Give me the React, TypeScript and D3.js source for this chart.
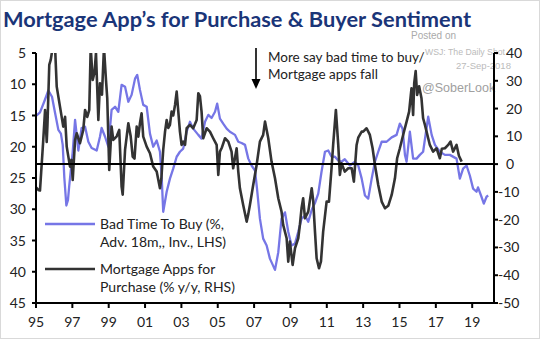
import React from "react";
import * as d3 from "d3";

const W = 540;
const H = 339;

const titleText = "Mortgage App\u2019s for Purchase & Buyer Sentiment";
const xTickYears = [1995, 1997, 1999, 2001, 2003, 2005, 2007, 2009, 2011, 2013, 2015, 2017, 2019];
const leftTicks = [5, 10, 15, 20, 25, 30, 35, 40, 45];
const rightTicks = [40, 30, 20, 10, 0, -10, -20, -30, -40, -50];
const legendBlue = ["Bad Time To Buy (%,", "Adv. 18m,, Inv., LHS)"];
const legendBlack = ["Mortgage Apps for", "Purchase (% y/y, RHS)"];
const annotationLines = ["More say bad time to buy/", "Mortgage apps fall"];

// Bad time to buy (%), advanced 18m, inverted, left axis
const badTimeToBuy: [number, number][] = [
  [1994.95, 15.2], [1995.22, 14.5], [1995.45, 12.8], [1995.68, 11.0], [1995.88, 12.0], [1996.05, 14.6],
  [1996.23, 17.3], [1996.37, 17.9], [1996.47, 19.7], [1996.56, 25.0], [1996.67, 29.4], [1996.76, 28.5],
  [1996.83, 26.2], [1997.02, 20.8], [1997.15, 15.7], [1997.33, 20.6], [1997.51, 17.0], [1997.7, 16.8],
  [1997.88, 19.2], [1998.06, 20.2], [1998.34, 20.6], [1998.52, 18.4], [1998.61, 17.0], [1998.8, 18.4],
  [1998.98, 20.0], [1999.16, 14.1], [1999.35, 13.6], [1999.53, 14.4], [1999.71, 10.1], [1999.9, 10.4],
  [2000.08, 12.8], [2000.26, 11.7], [2000.45, 9.1], [2000.57, 8.5], [2000.72, 10.9], [2000.9, 13.3],
  [2001.09, 13.6], [2001.27, 17.9], [2001.45, 20.0], [2001.64, 19.0], [2001.82, 20.8], [2001.91, 24.5],
  [2002.0, 30.4], [2002.19, 27.2], [2002.37, 25.1], [2002.55, 23.5], [2002.74, 21.6], [2002.92, 20.8],
  [2003.1, 20.3], [2003.29, 17.6], [2003.47, 16.0], [2003.65, 17.1], [2003.93, 18.1], [2004.11, 18.7],
  [2004.3, 16.0], [2004.48, 14.9], [2004.66, 15.4], [2004.85, 14.4], [2004.97, 13.1], [2005.12, 15.5],
  [2005.3, 16.3], [2005.49, 17.1], [2005.67, 17.6], [2005.95, 18.1], [2006.13, 19.2], [2006.31, 19.4],
  [2006.5, 19.7], [2006.68, 21.9], [2006.86, 23.0], [2007.05, 23.8], [2007.16, 26.7], [2007.32, 31.5],
  [2007.5, 34.7], [2007.69, 35.8], [2007.87, 37.9], [2008.15, 39.7], [2008.33, 36.9], [2008.51, 31.5],
  [2008.7, 30.5], [2008.88, 33.6], [2009.06, 35.8], [2009.25, 35.5], [2009.43, 33.6], [2009.61, 31.5],
  [2009.8, 31.0], [2009.98, 32.0], [2010.18, 30.0], [2010.35, 29.0], [2010.53, 27.5], [2010.71, 24.0],
  [2010.9, 20.8], [2011.08, 20.6], [2011.26, 21.6], [2011.45, 21.6], [2011.63, 22.2], [2011.81, 22.4],
  [2011.99, 22.0], [2012.27, 23.0], [2012.55, 22.4], [2012.73, 23.0], [2012.92, 25.1], [2013.1, 27.8],
  [2013.28, 28.3], [2013.47, 25.1], [2013.65, 22.4], [2013.83, 20.8], [2014.02, 19.2], [2014.29, 19.2],
  [2014.57, 18.5], [2014.84, 18.1], [2015.02, 16.3], [2015.17, 17.1], [2015.3, 21.3], [2015.39, 22.4],
  [2015.57, 17.6], [2015.75, 21.9], [2015.94, 21.9], [2016.12, 21.3], [2016.3, 20.8], [2016.58, 15.2],
  [2016.77, 18.1], [2016.95, 19.7], [2017.22, 20.8], [2017.5, 21.3], [2017.77, 21.3], [2018.14, 21.9],
  [2018.32, 25.1], [2018.5, 23.5], [2018.69, 23.0], [2018.87, 24.6], [2019.05, 26.7], [2019.24, 27.2],
  [2019.32, 26.5], [2019.51, 28.0], [2019.64, 29.1], [2019.79, 28.0], [2019.88, 27.8],
];

// Mortgage apps for purchase (% y/y), right axis
const mortgageApps: [number, number][] = [
  [1994.95, -8.0], [1995.13, -9.3], [1995.22, -9.5], [1995.4, 8.7], [1995.5, 19.5], [1995.59, 8.0],
  [1995.63, 14.0], [1995.73, 35.7], [1995.81, 37.5], [1995.92, 42.0], [1996.05, 42.0], [1996.14, 27.9],
  [1996.32, 20.7], [1996.5, 13.5], [1996.6, 17.0], [1996.69, 6.3], [1996.78, 2.7], [1996.87, -0.9],
  [1996.95, 1.5], [1997.02, -5.7], [1997.15, 8.7], [1997.24, 11.1], [1997.42, 7.5], [1997.6, 12.3],
  [1997.7, 19.5], [1997.82, 17.0], [1997.93, 19.5], [1998.01, 42.0], [1998.12, 30.3], [1998.22, 33.0],
  [1998.3, 40.0], [1998.43, 15.9], [1998.52, 29.1], [1998.63, 25.0], [1998.74, 42.0], [1998.85, 30.3],
  [1998.92, 23.7], [1999.03, -2.1], [1999.16, 13.5], [1999.25, 8.7], [1999.44, 10.0], [1999.58, 12.3],
  [1999.71, -8.1], [1999.77, -11.0], [1999.9, 5.1], [2000.08, 14.7], [2000.21, 10.0], [2000.32, 2.7],
  [2000.42, 2.0], [2000.54, 13.5], [2000.63, 9.9], [2000.72, 14.7], [2000.81, 18.3], [2000.9, 9.9],
  [2001.09, 6.3], [2001.27, 3.9], [2001.45, -0.9], [2001.64, -2.7], [2001.82, -8.7], [2001.9, -5.0],
  [2002.0, 5.1], [2002.1, 11.7], [2002.19, 15.9], [2002.28, 13.0], [2002.37, 14.1], [2002.46, 18.9],
  [2002.55, 17.5], [2002.65, 21.3], [2002.74, 26.1], [2002.83, 18.9], [2002.92, 11.7], [2003.01, 6.9],
  [2003.1, 8.1], [2003.2, 6.9], [2003.29, 12.9], [2003.47, 14.1], [2003.65, 12.9], [2003.84, 15.9],
  [2003.93, 25.5], [2004.02, 24.5], [2004.11, 18.9], [2004.2, 9.3], [2004.39, 12.9], [2004.57, 11.7],
  [2004.75, 9.3], [2004.94, 6.9], [2005.03, -3.9], [2005.12, 4.5], [2005.23, 6.0], [2005.4, 9.3],
  [2005.58, 8.1], [2005.76, 4.5], [2005.85, -1.5], [2006.04, 5.7], [2006.13, -2.7], [2006.22, -8.7],
  [2006.4, -14.7], [2006.59, -20.7], [2006.68, -18.0], [2006.77, -14.7], [2006.95, -7.5], [2007.14, -0.3],
  [2007.32, 8.1], [2007.5, 10.5], [2007.6, 15.3], [2007.78, 9.3], [2007.96, 0.9], [2008.15, -5.1],
  [2008.33, -12.3], [2008.51, -17.1], [2008.6, -21.9], [2008.79, -26.7], [2008.88, -35.1], [2008.97, -27.9],
  [2009.12, -36.3], [2009.25, -30.3], [2009.43, -26.7], [2009.52, -21.9], [2009.61, -15.9], [2009.7, -12.3],
  [2009.8, -19.5], [2009.98, -17.1], [2010.17, -8.7], [2010.25, -13.0], [2010.35, -24.3], [2010.44, -33.9],
  [2010.57, -37.5], [2010.68, -35.0], [2010.8, -24.3], [2010.99, -13.5], [2011.12, -13.5], [2011.26, -1.5],
  [2011.35, 6.9], [2011.5, 19.5], [2011.63, 6.9], [2011.72, -3.9], [2011.81, 0.3], [2011.99, -2.7],
  [2012.18, -1.5], [2012.37, -1.5], [2012.49, -6.3], [2012.64, 6.9], [2012.73, 9.5], [2012.92, 11.7],
  [2013.0, 11.7], [2013.19, 12.9], [2013.37, 10.5], [2013.52, 5.7], [2013.65, -0.3], [2013.83, -7.5],
  [2014.02, -13.5], [2014.2, -15.9], [2014.38, -15.0], [2014.57, -11.1], [2014.75, -5.1], [2014.87, 2.1],
  [2015.02, 5.7], [2015.2, 10.5], [2015.39, 15.3], [2015.53, 18.9], [2015.66, 27.3], [2015.75, 17.7],
  [2015.81, 29.1], [2015.89, 33.5], [2015.97, 24.9], [2016.08, 28.0], [2016.21, 23.7], [2016.3, 16.5],
  [2016.4, 14.1], [2016.49, 11.7], [2016.67, 6.9], [2016.85, 4.5], [2017.04, 5.7], [2017.22, 2.1],
  [2017.33, 5.5], [2017.5, 5.7], [2017.68, 6.9], [2017.81, 8.1], [2017.95, 4.5], [2018.14, 6.9],
  [2018.27, 3.0], [2018.42, 0.9],
];

const plot = { left: 36, right: 494, top: 53, bottom: 303 };

export default function App() {
  const x = d3.scaleLinear().domain([1995, 2020.2]).range([plot.left, plot.right]);
  const yL = d3.scaleLinear().domain([5, 45]).range([plot.top, plot.bottom]);
  const yR = d3.scaleLinear().domain([40, -50]).range([plot.top, plot.bottom]);

  const lineL = d3.line<[number, number]>().x((d) => x(d[0])).y((d) => yL(d[1]));
  const lineR = d3.line<[number, number]>().x((d) => x(d[0])).y((d) => yR(d[1]));

  const font = "Lato, 'Open Sans', sans-serif";
  const blue = "#7676e6";
  const dark = "#333333";
  const wmFont = "'Liberation Sans', Arial, sans-serif";

  return (
    <svg
      width={W}
      height={H}
      style={{ position: "fixed", left: 0, top: 0, background: "#fff" }}
      fontFamily={font}
    >
      <defs>
        <clipPath id="plotClip">
          <rect x={plot.left} y={plot.top} width={plot.right - plot.left} height={plot.bottom - plot.top} />
        </clipPath>
      </defs>
      <rect x={0.5} y={0.5} width={W - 1} height={H - 1} fill="#fff" stroke="#d9d9d9" />

      <text x={3} y={27} fontSize={20} fontWeight={700} fill="#1a3578" textLength={468} lengthAdjust="spacingAndGlyphs">
        {titleText}
      </text>

      {/* watermark */}
      <text x={411} y={39} fontSize={10} fill="#aaaaaa" fontFamily={wmFont}>Posted on</text>
      <text x={425} y={55} fontSize={9.5} fill="#bbbbbb" fontFamily={wmFont} textLength={80} lengthAdjust="spacingAndGlyphs">WSJ: The Daily Shot</text>
      <text x={456} y={69} fontSize={9.5} fill="#bbbbbb" fontFamily={wmFont}>27-Sep-2018</text>
      <text x={422} y={92} fontSize={12.5} fill="#a0a0a0" fontFamily={wmFont}>@SoberLook</text>

      {/* series */}
      <g clipPath="url(#plotClip)">
        <path d={lineL(badTimeToBuy) || ""} fill="none" stroke={blue} strokeWidth={2.3} strokeLinejoin="round" />
        <path d={lineR(mortgageApps) || ""} fill="none" stroke={dark} strokeWidth={2.6} strokeLinejoin="round" />
      </g>

      {/* zero line */}
      <line x1={plot.left} x2={plot.right} y1={yR(0)} y2={yR(0)} stroke="#000" strokeWidth={2} />

      {/* axes */}
      <line x1={plot.left} x2={plot.left} y1={plot.top} y2={plot.bottom + 1} stroke="#000" strokeWidth={2} />
      <line x1={plot.right} x2={plot.right} y1={plot.top} y2={plot.bottom + 1} stroke="#000" strokeWidth={2} />
      <line x1={plot.left - 1} x2={plot.right + 1} y1={plot.bottom} y2={plot.bottom} stroke="#000" strokeWidth={2} />

      {leftTicks.map((t) => (
        <g key={"l" + t}>
          <line x1={plot.left - 4} x2={plot.left} y1={yL(t)} y2={yL(t)} stroke="#000" strokeWidth={2} />
          <text x={26} y={yL(t)} dy="0.36em" textAnchor="end" fontSize={14} fill="#222">{t}</text>
        </g>
      ))}
      {rightTicks.map((t) => (
        <g key={"r" + t}>
          <line x1={plot.right} x2={plot.right + 4} y1={yR(t)} y2={yR(t)} stroke="#000" strokeWidth={2} />
          <text x={t < 0 ? 498 : 506} y={yR(t)} dy="0.36em" textAnchor="start" fontSize={14} fill="#222">{t}</text>
        </g>
      ))}
      {xTickYears.map((t) => (
        <g key={"x" + t}>
          <line x1={x(t)} x2={x(t)} y1={plot.bottom} y2={plot.bottom + 5} stroke="#000" strokeWidth={2} />
          <text x={x(t)} y={327} textAnchor="middle" fontSize={14} fill="#222">{String(t).slice(2)}</text>
        </g>
      ))}

      {/* annotation */}
      <line x1={256} x2={256} y1={48} y2={80} stroke="#000" strokeWidth={1.6} />
      <path d="M251.5,79 L260.5,79 L256,89 Z" fill="#000" />
      {annotationLines.map((s, i) => (
        <text key={s} x={268} y={62 + i * 17} fontSize={13.5} fill="#222">{s}</text>
      ))}

      {/* legend */}
      <line x1={45} x2={95} y1={224} y2={224} stroke={blue} strokeWidth={2.4} />
      {legendBlue.map((s, i) => (
        <text key={s} x={100} y={229 + i * 18} fontSize={14} fill="#222">{s}</text>
      ))}
      <line x1={45} x2={95} y1={269} y2={269} stroke={dark} strokeWidth={2.6} />
      {legendBlack.map((s, i) => (
        <text key={s} x={100} y={274 + i * 18} fontSize={14} fill="#222">{s}</text>
      ))}
    </svg>
  );
}
